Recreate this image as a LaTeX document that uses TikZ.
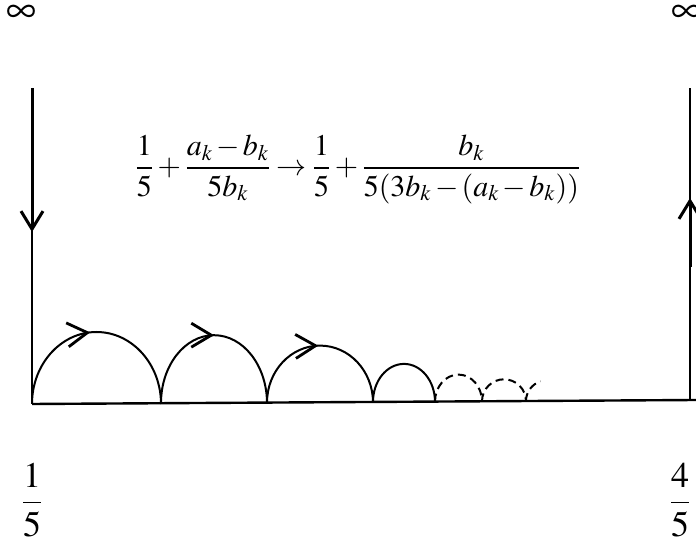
\documentclass[tikz,border=0pt]{standalone}
\usepackage{amsmath}
\usepackage{mathptmx}
\usetikzlibrary{arrows.meta,decorations.markings}

\tikzset{
  barb/.style={-{Straight Barb[length=9pt,width=11pt]}},
  midbarb/.style={postaction={decorate},
    decoration={markings, mark=at position #1 with {\arrow[line width=1.4pt]{Straight Barb[length=10pt,width=12pt]}}}},
  lbl/.style={font=\fontsize{17}{20}\selectfont, inner sep=0pt},
  infty/.style={font=\fontsize{21}{24}\selectfont, inner sep=0pt, text height=6pt, text depth=0pt},
  hop/.style={line width=1pt},
  dashhop/.style={line width=1pt, dash pattern=on 4pt off 2.5pt}
}

\begin{document}
\begin{tikzpicture}[x=0.5pt, y=0.5pt]
  \useasboundingbox (0,0) rectangle (696,546);
  % infinity at both ends
  \node[infty] (infL) at (21,529) {$\infty$};
  \node[infty] (infR) at (686,529) {$\infty$};
  % corners and axis ends
  \coordinate (TL) at (32,458);
  \coordinate (BL) at (32,142);
  \coordinate (TR) at (690,458);
  \coordinate (BR) at (690,145);
  \coordinate (E) at (696,146);
  % left side, going down
  \draw[line width=1pt] (TL) -- (BL);
  \draw[line width=1.5pt, barb] (TL) -- (32,314);
  % right side, going up
  \draw[line width=1pt] (BR) -- (TR);
  \draw[line width=1.5pt, barb] (690,279) -- (690,348);
  % real axis
  \draw[line width=1.2pt] (BL) -- (E);
  % hops along the axis
  \draw[hop, midbarb=0.47] (BL) arc[start angle=180, end angle=0, x radius=64.5, y radius=72];
  \draw[hop, midbarb=0.5] (161,142.8) arc[start angle=180, end angle=0, x radius=53, y radius=68];
  \draw[hop, midbarb=0.49] (267,143.4) arc[start angle=180, end angle=0, x radius=53, y radius=57];
  \draw[hop] (373,144.1) arc[start angle=180, end angle=0, x radius=31, y radius=38];
  \draw[dashhop] (435,144.4) arc[start angle=180, end angle=0, x radius=23.5, y radius=27];
  \draw[dashhop] (482,144.7) arc[start angle=180, end angle=0, x radius=22, y radius=22];
  \draw[dashhop] (526,145) arc[start angle=180, end angle=110, x radius=22, y radius=21];
  % the map
  \node[lbl, font=\fontsize{15}{18}\selectfont] (map) at (358,377)
    {$\medmuskip=2mu \thickmuskip=3mu
     \dfrac{1}{5}+\dfrac{a_k-b_k}{5b_k}\to\dfrac{1}{5}+\dfrac{b_k}{5(3b_k-(a_k-b_k))}$};
  % end values
  \node[lbl, font=\fontsize{18}{21}\selectfont] (lo) at (32,46) {$\dfrac{1}{5}$};
  \node[lbl, font=\fontsize{18}{21}\selectfont] (hi) at (680,46) {$\dfrac{4}{5}$};
\end{tikzpicture}
\end{document}
